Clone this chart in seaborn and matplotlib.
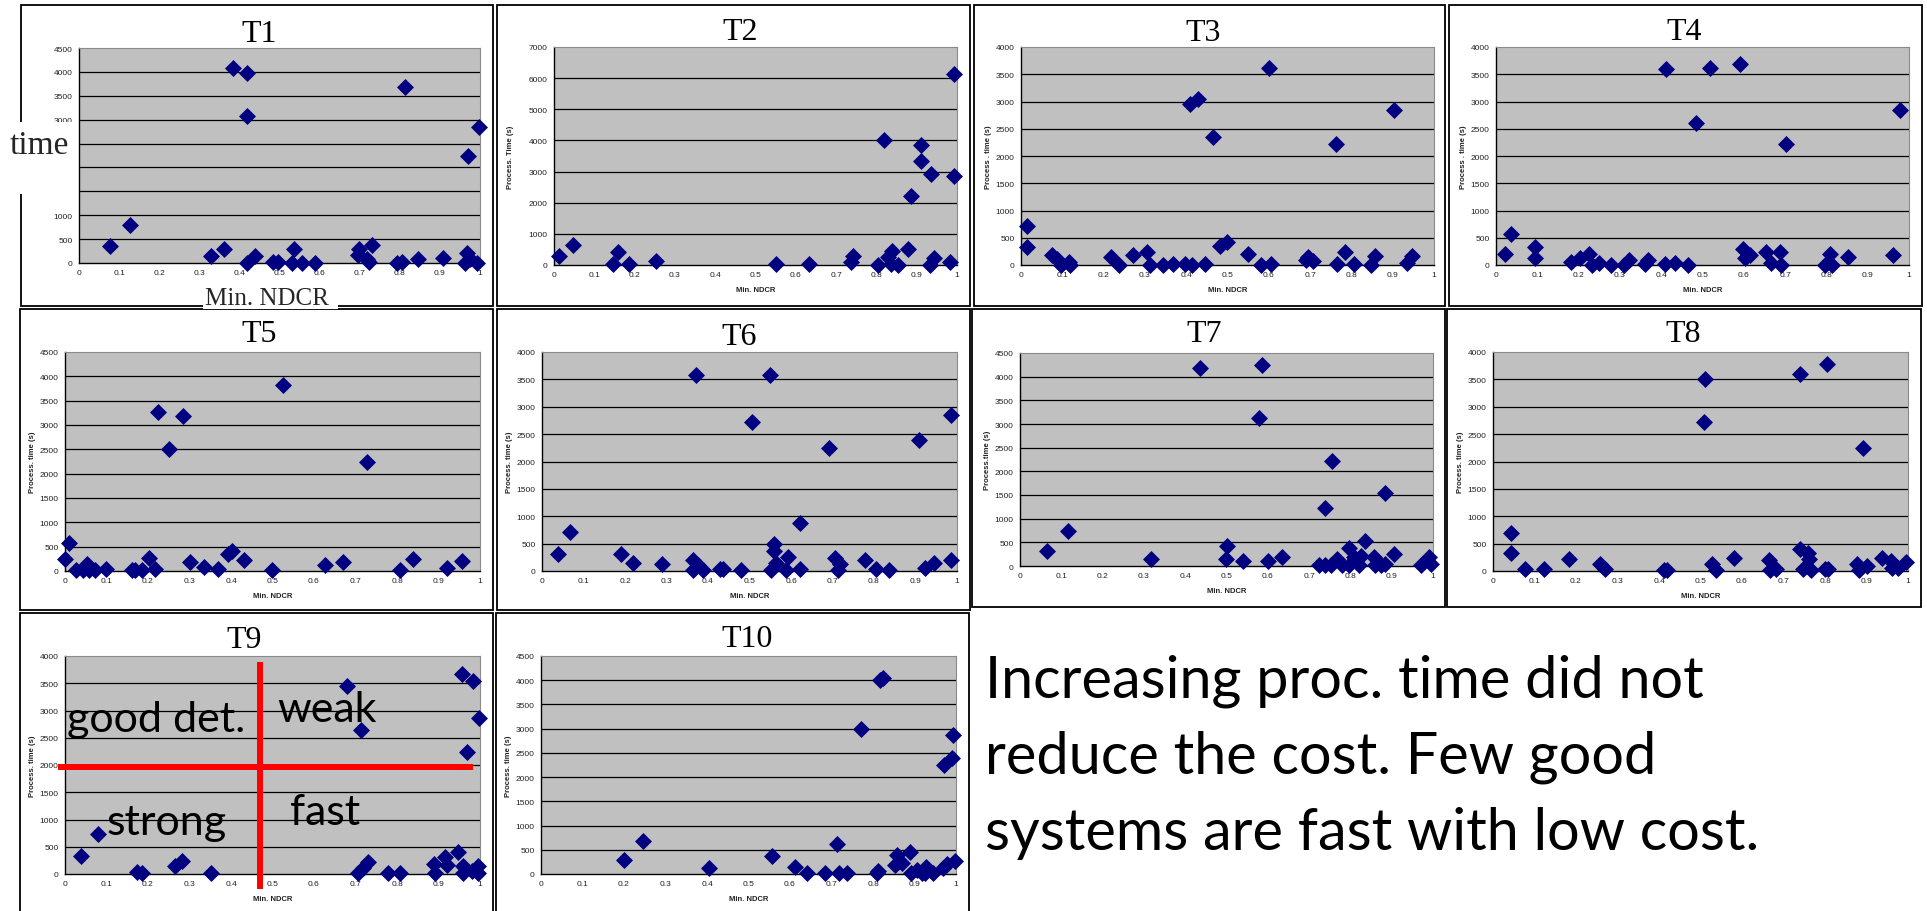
import matplotlib
matplotlib.use("Agg")
import matplotlib.pyplot as plt
import seaborn as sns
import pandas as pd
from matplotlib.patches import Rectangle

# ---------------------------------------------------------------- data
TITLES = ["T1", "T2", "T3", "T4", "T5", "T6", "T7", "T8", "T9", "T10"]
X_TICKS = [0, 0.1, 0.2, 0.3, 0.4, 0.5, 0.6, 0.7, 0.8, 0.9, 1.0]
X_TICK_LABELS = ["0", "0.1", "0.2", "0.3", "0.4", "0.5", "0.6", "0.7", "0.8", "0.9", "1"]
Y_MAX = [4500, 7000, 4000, 4000, 4500, 4000, 4500, 4000, 4000, 4500]
Y_STEP = [500, 1000, 500, 500, 500, 500, 500, 500, 500, 500]
Y_LABELS = [None, "Process. Time (s)", "Process . time (s)", "Process . time (s)",
            "Process. time (s)", "Process. time (s)", "Process.time (s)",
            "Process. time (s)", "Process. time (s)", "Process. time (s)"]
X_LABEL = "Min. NDCR"

T1_NDCR = [0.077, 0.127, 0.385, 0.418, 0.420, 0.813, 0.998, 0.969, 0.328, 0.362, 0.418,
           0.440, 0.485, 0.497, 0.535, 0.530, 0.555, 0.588, 0.699, 0.697, 0.717, 0.730,
           0.724, 0.792, 0.806, 0.846, 0.907, 0.967, 0.962, 0.975, 0.993]
T1_TIME = [356, 789, 4089, 3985, 3077, 3692, 2847, 2233, 147, 300, 0,
           147, 20, 20, 300, 0, 0, 0, 300, 160, 90, 370,
           20, 0, 20, 77, 112, 216, 0, 90, 0]

T2_NDCR = [0.013, 0.046, 0.147, 0.160, 0.187, 0.253, 0.551, 0.632, 0.738, 0.742, 0.805,
           0.820, 0.830, 0.838, 0.837, 0.853, 0.878, 0.886, 0.911, 0.911, 0.936, 0.932,
           0.942, 0.982, 0.993, 0.993]
T2_TIME = [279, 643, 32, 407, 32, 118, 32, 32, 86, 300, 10,
           4019, 247, 440, 32, 10, 514, 2229, 3869, 3333, 2926, 10,
           214, 86, 6120, 2851]

T3_NDCR = [0.015, 0.015, 0.074, 0.088, 0.096, 0.116, 0.119, 0.219, 0.238, 0.272, 0.306,
           0.312, 0.343, 0.369, 0.397, 0.415, 0.445, 0.409, 0.429, 0.464, 0.483, 0.499,
           0.550, 0.582, 0.606, 0.600, 0.689, 0.695, 0.707, 0.762, 0.764, 0.784, 0.806,
           0.848, 0.856, 0.902, 0.935, 0.947]
T3_TIME = [711, 325, 184, 110, 6, 49, 6, 141, 6, 184, 233,
           6, 6, 18, 18, 6, 18, 2959, 3051, 2346, 355, 417,
           202, 0, 18, 3614, 92, 141, 80, 2224, 18, 233, 18,
           0, 159, 2848, 37, 172]

T4_NDCR = [0.023, 0.037, 0.095, 0.095, 0.181, 0.204, 0.226, 0.232, 0.250, 0.278, 0.309,
           0.323, 0.361, 0.369, 0.410, 0.412, 0.434, 0.465, 0.484, 0.519, 0.591, 0.599,
           0.603, 0.615, 0.653, 0.666, 0.688, 0.690, 0.702, 0.797, 0.809, 0.813, 0.852,
           0.962, 0.977]
T4_TIME = [202, 570, 325, 123, 49, 123, 202, 6, 37, 6, 6,
           92, 18, 92, 18, 3590, 37, 6, 2610, 3614, 3694, 294,
           123, 184, 245, 37, 245, 6, 2224, 6, 202, 6, 153,
           184, 2836]

T5_NDCR = [0.000, 0.010, 0.027, 0.043, 0.054, 0.059, 0.072, 0.099, 0.161, 0.169, 0.185,
           0.203, 0.217, 0.225, 0.251, 0.284, 0.300, 0.335, 0.369, 0.393, 0.402, 0.432,
           0.498, 0.526, 0.627, 0.671, 0.727, 0.807, 0.839, 0.920, 0.956]
T5_TIME = [240, 584, 21, 21, 151, 21, 21, 34, 21, 21, 21,
           261, 34, 3262, 2507, 3180, 192, 89, 34, 343, 412, 220,
           21, 3826, 124, 192, 2232, 21, 254, 69, 206]

T6_NDCR = [0.039, 0.068, 0.191, 0.219, 0.289, 0.364, 0.365, 0.372, 0.376, 0.388, 0.428,
           0.436, 0.480, 0.507, 0.549, 0.552, 0.558, 0.558, 0.565, 0.589, 0.593, 0.621,
           0.621, 0.691, 0.707, 0.717, 0.713, 0.779, 0.806, 0.835, 0.908, 0.923, 0.945,
           0.985, 0.985]
T6_TIME = [305, 714, 305, 140, 134, 201, 18, 3573, 110, 18, 31,
           31, 18, 2718, 3573, 18, 489, 366, 153, 18, 263, 885,
           31, 2241, 244, 134, 18, 201, 31, 18, 2394, 49, 153,
           2852, 195]

T7_NDCR = [0.065, 0.116, 0.317, 0.436, 0.500, 0.498, 0.541, 0.578, 0.587, 0.600, 0.634,
           0.725, 0.738, 0.739, 0.755, 0.754, 0.767, 0.780, 0.796, 0.797, 0.808, 0.822,
           0.826, 0.836, 0.856, 0.859, 0.875, 0.883, 0.884, 0.905, 0.972, 0.990, 0.994]
T7_TIME = [310, 732, 148, 4176, 430, 148, 99, 3127, 4254, 113, 197,
           21, 1225, 21, 2225, 21, 148, 21, 373, 21, 183, 21,
           218, 521, 183, 21, 21, 1535, 42, 254, 21, 197, 42]

T8_NDCR = [0.043, 0.043, 0.078, 0.122, 0.184, 0.257, 0.270, 0.412, 0.419, 0.511, 0.508,
           0.527, 0.537, 0.581, 0.666, 0.667, 0.683, 0.739, 0.739, 0.758, 0.762, 0.747,
           0.766, 0.805, 0.800, 0.808, 0.876, 0.882, 0.892, 0.900, 0.938, 0.960, 0.961,
           0.976, 0.994]
T8_TIME = [702, 336, 31, 43, 214, 134, 31, 18, 18, 3511, 2718,
           122, 18, 244, 195, 18, 31, 3603, 409, 336, 214, 43,
           18, 3786, 31, 31, 134, 18, 2241, 92, 244, 183, 61,
           61, 171]

T9_NDCR = [0.039, 0.080, 0.173, 0.185, 0.265, 0.283, 0.353, 0.679, 0.713, 0.707, 0.719,
           0.731, 0.779, 0.807, 0.888, 0.892, 0.916, 0.920, 0.948, 0.956, 0.960, 0.958,
           0.982, 0.968, 0.980, 0.998, 0.996, 0.994]
T9_TIME = [337, 735, 31, 12, 153, 233, 18, 3449, 2646, 12, 110,
           227, 12, 18, 184, 12, 306, 172, 398, 3675, 153, 12,
           3541, 2236, 61, 2861, 153, 12]

T10_NDCR = [0.199, 0.246, 0.406, 0.556, 0.612, 0.642, 0.685, 0.714, 0.717, 0.738, 0.770,
            0.809, 0.813, 0.817, 0.825, 0.852, 0.859, 0.869, 0.889, 0.891, 0.905, 0.917,
            0.928, 0.925, 0.944, 0.968, 0.971, 0.990, 0.992, 0.998, 0.978]
T10_TIME = [296, 681, 124, 365, 145, 28, 28, 613, 28, 28, 3001,
            28, 55, 3999, 4054, 179, 385, 234, 454, 28, 76, 28,
            145, 28, 28, 124, 2244, 2395, 2863, 262, 213]

NDCR = [T1_NDCR, T2_NDCR, T3_NDCR, T4_NDCR, T5_NDCR,
        T6_NDCR, T7_NDCR, T8_NDCR, T9_NDCR, T10_NDCR]
TIME = [T1_TIME, T2_TIME, T3_TIME, T4_TIME, T5_TIME,
        T6_TIME, T7_TIME, T8_TIME, T9_TIME, T10_TIME]

# quadrant split drawn on T9 and the names of the four quadrants
SPLIT_NDCR = 0.47
SPLIT_TIME = 1960
QUADRANT_NAMES = ["good det.", "weak", "strong", "fast"]

COMMENT_LINES = ["Increasing proc. time did not",
                 "reduce the cost. Few good",
                 "systems are fast with low cost."]

# ---------------------------------------------------------------- layout (pixels)
W, H = 1927, 912
AXES_PX = [(79, 49, 480, 264), (554, 48, 957, 266), (1021, 48, 1434, 266),
           (1496, 48, 1909, 266), (65, 353, 480, 572), (542, 353, 957, 572),
           (1020, 354, 1433, 567), (1493, 353, 1908, 572), (65, 657, 480, 875),
           (541, 657, 956, 875)]
PANEL_PX = [(21, 6, 493, 307), (497, 6, 970, 307), (974, 6, 1445, 307),
            (1449, 6, 1922, 307), (20, 310, 493, 611), (497, 310, 970, 611),
            (972, 310, 1445, 608), (1447, 310, 1921, 608), (20, 614, 493, 930),
            (496, 614, 969, 930)]
TITLE_PX = [(259, 42), (740, 40), (1203, 41), (1684, 40), (259, 342),
            (739, 345), (1204, 342), (1683, 342), (244, 648), (747, 647)]
YLABEL_GAP_PX = [0, 40, 29, 29, 29, 29, 29, 29, 29, 29]

sns.set_style("white")
plt.rcParams["font.family"] = ["Liberation Sans", "DejaVu Sans"]

fig = plt.figure(figsize=(W / 100, H / 100), dpi=100)
fig.patch.set_facecolor("white")


def fig_rect(l, t, r, b):
    return [l / W, 1 - b / H, (r - l) / W, (b - t) / H]


def fx(px):
    return px / W


def fy(py):
    return 1 - py / H


# panel frames
for (l, t, r, b) in PANEL_PX:
    fig.add_artist(Rectangle((fx(l), fy(b)), (r - l) / W, (b - t) / H,
                             transform=fig.transFigure, fill=False,
                             edgecolor="black", linewidth=1.3, zorder=5))

axes = []
for i in range(10):
    ax = fig.add_axes(fig_rect(*AXES_PX[i]))
    axes.append(ax)
    ymax, step = Y_MAX[i], Y_STEP[i]
    ax.set_facecolor("#C0C0C0")
    yt = list(range(0, ymax + 1, step))
    for v in yt[1:-1]:
        ax.axhline(v, color="black", linewidth=0.9, zorder=1)
    df = pd.DataFrame({"ndcr": NDCR[i], "time": TIME[i]})
    sns.scatterplot(data=df, x="ndcr", y="time", marker="D", color="#000080",
                    s=75, linewidth=0, ax=ax, clip_on=False, zorder=3)
    ax.set_xlim(0, 1)
    ax.set_ylim(0, ymax)
    ax.set_xticks(X_TICKS)
    ax.set_xticklabels(X_TICK_LABELS)
    ax.set_yticks(yt)
    ax.set_yticklabels([str(v) for v in yt])
    ax.tick_params(axis="both", direction="out", length=2.5, width=0.8,
                   labelsize=6, colors="#222222", pad=2)
    ax.tick_params(axis="both", color="black")
    for side in ("left", "bottom"):
        ax.spines[side].set_color("black")
        ax.spines[side].set_linewidth(1.0)
    for side in ("top", "right"):
        ax.spines[side].set_color("#8a8a8a")
        ax.spines[side].set_linewidth(0.8)
    ax.grid(False)
    if i == 0:
        ax.set_xlabel("")
        ax.set_ylabel("")
    else:
        ax.set_xlabel(X_LABEL, fontsize=5.5, fontweight="bold", color="#222222")
        ax.set_ylabel(Y_LABELS[i], fontsize=5.5, fontweight="bold", color="#222222")
        hpx = AXES_PX[i][3] - AXES_PX[i][1]
        wpx = AXES_PX[i][2] - AXES_PX[i][0]
        ax.xaxis.set_label_coords(0.5, -21 / hpx)
        ax.yaxis.set_label_coords(-YLABEL_GAP_PX[i] / wpx, 0.5)
    tx, ty = TITLE_PX[i]
    fig.text(fx(tx), fy(ty), TITLES[i], ha="center", va="baseline",
             fontsize=23, family="Liberation Serif", color="black", zorder=8)

# T1 tick labels hidden under the overlay word
for lbl in axes[0].get_yticklabels():
    if lbl.get_text() in ("1500", "2000", "2500"):
        lbl.set_visible(False)

# large overlay words on T1
fig.add_artist(Rectangle((fx(0), fy(195)), 77 / W, 72 / H, transform=fig.transFigure,
                         facecolor="white", edgecolor="none", zorder=10))
fig.text(fx(10), fy(154), "time", ha="left", va="baseline", fontsize=24,
         family="Liberation Serif", zorder=11)
fig.add_artist(Rectangle((fx(203), fy(310)), 135 / W, 25 / H, transform=fig.transFigure,
                         facecolor="white", edgecolor="none", zorder=10))
fig.text(fx(205), fy(305), X_LABEL, ha="left", va="baseline", fontsize=18,
         family="Liberation Serif", zorder=11)

# quadrants on T9
ax9 = axes[8]
ax9.plot([SPLIT_NDCR, SPLIT_NDCR], [-275, 3890], color="#FF0000", linewidth=4.3,
         clip_on=False, zorder=4, solid_capstyle="butt")
ax9.plot([-0.017, 0.983], [SPLIT_TIME, SPLIT_TIME], color="#FF0000", linewidth=4.3,
         clip_on=False, zorder=4, solid_capstyle="butt")
quad_pos = [(0.005, 2624), (0.511, 2807), (0.101, 734), (0.542, 917)]
for name, (qx, qy) in zip(QUADRANT_NAMES, quad_pos):
    ax9.text(qx, qy, name, ha="left", va="baseline", fontsize=31,
             family="Lato", color="black", zorder=6)

# closing remark
for line, base in zip(COMMENT_LINES, [698, 774, 850]):
    fig.text(fx(985), fy(base), line, ha="left", va="baseline", fontsize=41.5,
             family="Lato", color="black")

fig.savefig("out.png", dpi=100, facecolor="white")
